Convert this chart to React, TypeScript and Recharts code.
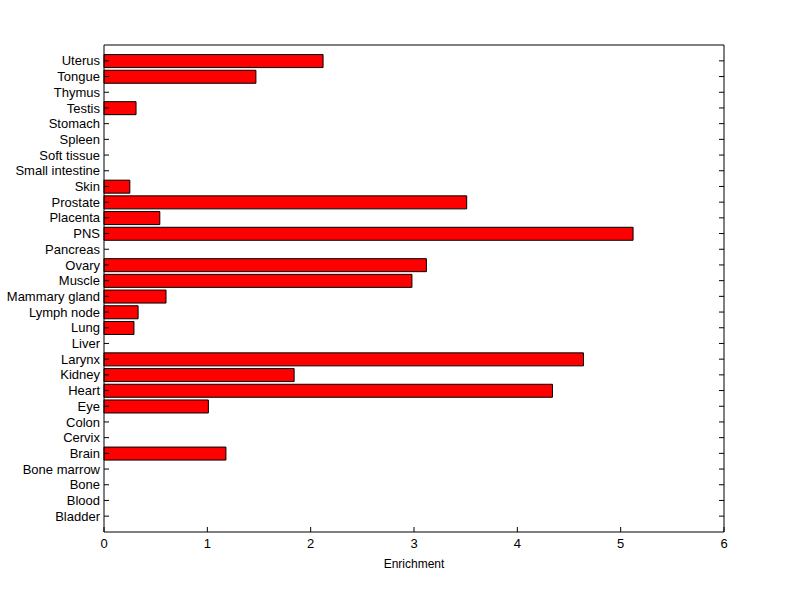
import { Bar, BarChart, XAxis, YAxis } from "recharts";

const tissues = [
  "Uterus", "Tongue", "Thymus", "Testis", "Stomach", "Spleen", "Soft tissue",
  "Small intestine", "Skin", "Prostate", "Placenta", "PNS", "Pancreas", "Ovary",
  "Muscle", "Mammary gland", "Lymph node", "Lung", "Liver", "Larynx", "Kidney",
  "Heart", "Eye", "Colon", "Cervix", "Brain", "Bone marrow", "Bone", "Blood", "Bladder"
];

const enrichment = [
  2.12, 1.47, 0, 0.31, 0, 0, 0,
  0, 0.25, 3.51, 0.54, 5.12, 0, 3.12,
  2.98, 0.6, 0.33, 0.29, 0, 4.64, 1.84,
  4.34, 1.01, 0, 0, 1.18, 0, 0, 0, 0
];

const xTicks = [0, 1, 2, 3, 4, 5, 6];

const data = tissues.map((name, i) => ({ name, value: enrichment[i] }));

const fontFamily = "'Liberation Sans', Arial, sans-serif";
const font = { fontFamily, fontSize: 13, fill: "#000" };

// plain svg text so long names don't wrap
function NameTick(props: any) {
  const { x, y, payload } = props;
  return (
    <text x={x} y={y} dy="0.355em" textAnchor="end" fontFamily={fontFamily} fontSize={13} fill="#000">
      {payload.value}
    </text>
  );
}

function EmptyTick() {
  return <g />;
}

export default function App() {
  return (
    <div style={{ position: "fixed", left: 0, top: 0, width: 800, height: 599, background: "#fff" }}>
      <BarChart
        width={800}
        height={599}
        data={data}
        layout="vertical"
        margin={{ top: 44, right: 66, bottom: 27, left: 4 }}
        barCategoryGap="10%"
      >
        <XAxis
          type="number"
          domain={[0, 6]}
          ticks={xTicks}
          height={40}
          tickSize={-5}
          tickMargin={12}
          stroke="#000"
          tick={font}
          label={{ value: "Enrichment", position: "insideBottom", offset: 4, style: { ...font, fontSize: 12 } }}
        />
        <XAxis
          xAxisId="top"
          orientation="top"
          type="number"
          domain={[0, 6]}
          ticks={xTicks}
          height={1}
          tickSize={-5}
          tick={EmptyTick}
          stroke="#000"
        />
        <YAxis
          type="category"
          dataKey="name"
          width={100}
          tickSize={-5}
          tickMargin={9}
          interval={0}
          padding={{ top: 8, bottom: 8 }}
          stroke="#000"
          tick={NameTick}
        />
        <YAxis
          yAxisId="right"
          orientation="right"
          type="category"
          dataKey="name"
          width={10}
          tickSize={-5}
          interval={0}
          padding={{ top: 8, bottom: 8 }}
          tick={EmptyTick}
          stroke="#000"
        />
        <Bar dataKey="value" fill="#ff0000" stroke="#000" strokeWidth={1} isAnimationActive={false} />
      </BarChart>
    </div>
  );
}
